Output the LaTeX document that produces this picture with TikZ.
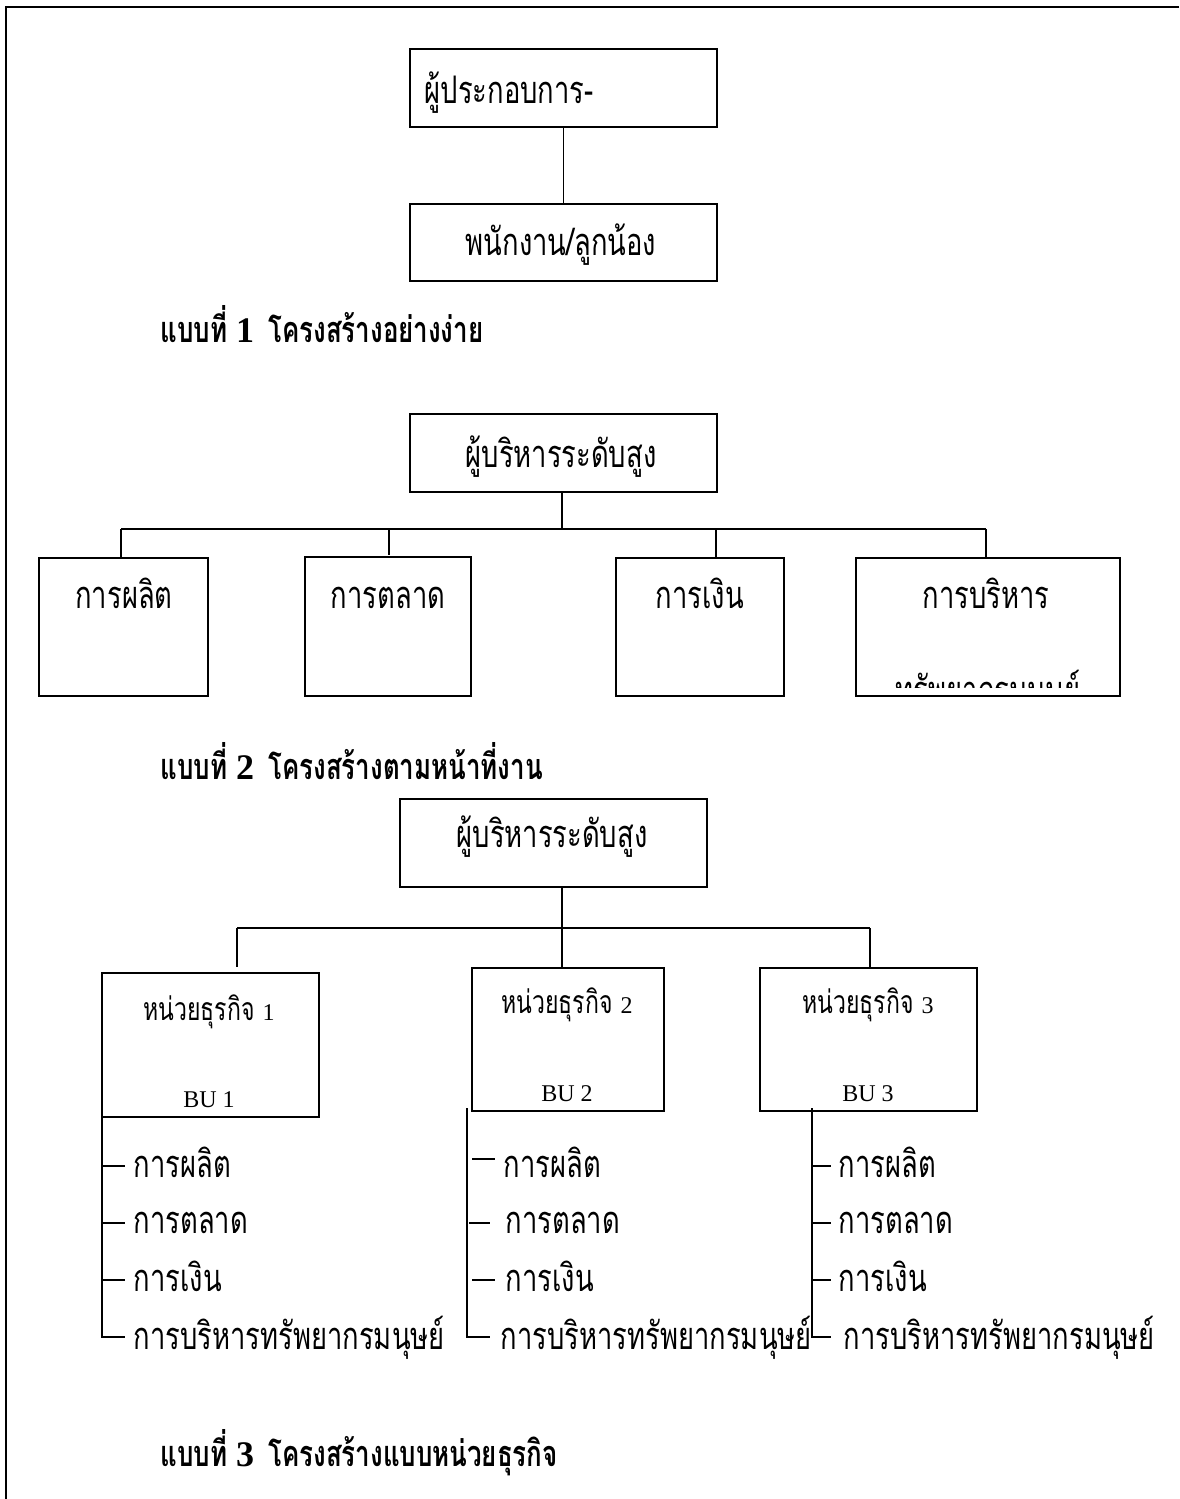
\documentclass[tikz,border=0pt]{standalone}
\usepackage{fontspec}
\newfontfamily\thai[Script=Thai,FakeStretch=0.72]{Loma}
\newfontfamily\tnr{Liberation Serif}
\begin{document}
\begin{tikzpicture}[x=1pt,y=-1pt,
  line width=1.6pt,
  box/.style={draw,line width=2pt,inner sep=0pt,outer sep=0pt},
  txt/.style={inner sep=0pt,font=\thai\fontsize{38}{42}\selectfont},
  captxt/.style={inner sep=0pt,anchor=base west,font=\thai\bfseries\fontsize{36}{40}\selectfont},
  butxt/.style={inner sep=0pt,anchor=base,font=\thai\fontsize{32}{36}\selectfont},
  bulab/.style={inner sep=0pt,anchor=base,font=\tnr\fontsize{24}{28}\selectfont},
  item/.style={inner sep=0pt,anchor=base west,font=\thai\fontsize{38}{42}\selectfont}]
\useasboundingbox (0,0) rectangle (1179,1499);
% page frame (top and left edges)
\coordinate (fr1) at (1179,7);
\coordinate (fr2) at (6,7);
\coordinate (fr3) at (6,1499);
\draw[line width=2pt] (fr1) -- (fr2) -- (fr3);

% ---------- Type 1: simple structure ----------
\node[box,minimum width=307pt,minimum height=78pt] (pA) at (563.5,88) {};
\node[box,minimum width=307pt,minimum height=77pt] (pB) at (563.5,242.5) {};
\node[txt,anchor=base west] (pAt) at (424,103) {ผู้ประกอบการ-};
\node[txt,anchor=base] (pBt) at (561,255) {พนักงาน/ลูกน้อง};
\draw[line width=1.3pt] (pA) -- (pB);
\node[captxt] (cap1) at (160,342) {แบบที่ {\tnr\bfseries 1}\hspace{14pt}โครงสร้างอย่างง่าย};

% ---------- Type 2: functional structure ----------
\node[box,minimum width=307pt,minimum height=78pt] (f0) at (563.5,453) {};
\node[txt,anchor=base] (f0t) at (561,467) {ผู้บริหารระดับสูง};
\node[box,minimum width=169pt,minimum height=138pt] (f1) at (123.5,627) {};
\node[box,minimum width=166pt,minimum height=139pt] (f2) at (388,626.5) {};
\node[box,minimum width=168pt,minimum height=138pt] (f3) at (700,627) {};
\node[box,minimum width=264pt,minimum height=138pt] (f4) at (988,627) {};
\node[txt,anchor=base] (f1t) at (124,608) {การผลิต};
\node[txt,anchor=base] (f2t) at (388,608) {การตลาด};
\node[txt,anchor=base] (f3t) at (700,608) {การเงิน};
\node[txt,anchor=base] (f4t) at (986,608) {การบริหาร};
\begin{scope}
  \clip (858,600) rectangle (1118,687);
  \node[txt,anchor=base] (f4u) at (988,703) {ทรัพยากรมนุษย์};
\end{scope}
\coordinate (bus2) at (562,529);
\coordinate (k1) at (121,529);
\coordinate (k2) at (389,529);
\coordinate (k3) at (716,529);
\coordinate (k4) at (986,529);
\draw (f0.south -| bus2) -- (bus2);
\draw (k1) -- (k4);
\draw (k1) -- (k1 |- f1.north);
\draw (k2) -- ([yshift=2pt]k2 |- f2.north);
\draw (k3) -- (k3 |- f3.north);
\draw (k4) -- (k4 |- f4.north);
\node[captxt] (cap2) at (160,779) {แบบที่ {\tnr\bfseries 2}\hspace{14pt}โครงสร้างตามหน้าที่งาน};

% ---------- Type 3: business-unit structure ----------
\node[box,minimum width=307pt,minimum height=88pt] (d0) at (553.5,843) {};
\node[txt,anchor=base] (d0t) at (552,847) {ผู้บริหารระดับสูง};
\node[box,minimum width=217pt,minimum height=144pt] (u1) at (210.5,1045) {};
\node[box,minimum width=192pt,minimum height=143pt] (u2) at (568,1039.5) {};
\node[box,minimum width=217pt,minimum height=143pt] (u3) at (868.5,1039.5) {};
\node[butxt] (u1t) at (209,1020) {หน่วยธุรกิจ {\tnr\fontsize{24}{28}\selectfont 1}};
\node[butxt] (u2t) at (567,1013) {หน่วยธุรกิจ {\tnr\fontsize{24}{28}\selectfont 2}};
\node[butxt] (u3t) at (868,1013) {หน่วยธุรกิจ {\tnr\fontsize{24}{28}\selectfont 3}};
\node[bulab] (u1l) at (209,1107) {BU 1};
\node[bulab] (u2l) at (567,1101) {BU 2};
\node[bulab] (u3l) at (868,1101) {BU 3};
\coordinate (bus3) at (562,928);
\coordinate (j1) at (237,928);
\coordinate (j3) at (870,928);
\draw (d0.south -| bus3) -- (bus3);
\draw (j1) -- (j3);
\draw (j1) -- ([yshift=6pt]j1 |- u1.north);
\draw (bus3) -- (bus3 |- u2.north);
\draw (j3) -- (j3 |- u3.north);

% unit 1 departments
\node[item] (a1) at (133,1177) {การผลิต};
\node[item] (a2) at (133,1233) {การตลาด};
\node[item] (a3) at (133,1291) {การเงิน};
\node[item] (a4) at (133,1349) {การบริหารทรัพยากรมนุษย์};
\coordinate (a0) at (102,1108);
\coordinate (a4s) at (102,1337);
\draw (a0) -- (a4s) -- (125,1337);
\draw (102,1166) -- (125,1166);
\draw (102,1223) -- (125,1223);
\draw (102,1280) -- (125,1280);

% unit 2 departments
\node[item] (b1) at (503,1177) {การผลิต};
\node[item] (b2) at (505,1233) {การตลาด};
\node[item] (b3) at (505,1291) {การเงิน};
\node[item] (b4) at (500,1349) {การบริหารทรัพยากรมนุษย์};
\coordinate (b0) at (467,1108);
\coordinate (b4s) at (467,1337);
\draw (b0) -- (b4s) -- (490,1337);
\draw (472,1159) -- (495,1159);
\draw (469,1223) -- (490,1223);
\draw (472,1280) -- (495,1280);

% unit 3 departments
\node[item] (c1) at (838,1177) {การผลิต};
\node[item] (c2) at (838,1233) {การตลาด};
\node[item] (c3) at (838,1291) {การเงิน};
\node[item] (c4) at (843,1349) {การบริหารทรัพยากรมนุษย์};
\coordinate (c0) at (812,1108);
\coordinate (c4s) at (812,1337);
\draw (c0) -- (c4s) -- (831,1337);
\draw (812,1166) -- (831,1166);
\draw (812,1223) -- (831,1223);
\draw (812,1280) -- (831,1280);

\node[captxt] (cap3) at (160,1466) {แบบที่ {\tnr\bfseries 3}\hspace{14pt}โครงสร้างแบบหน่วยธุรกิจ};
\end{tikzpicture}
\end{document}
